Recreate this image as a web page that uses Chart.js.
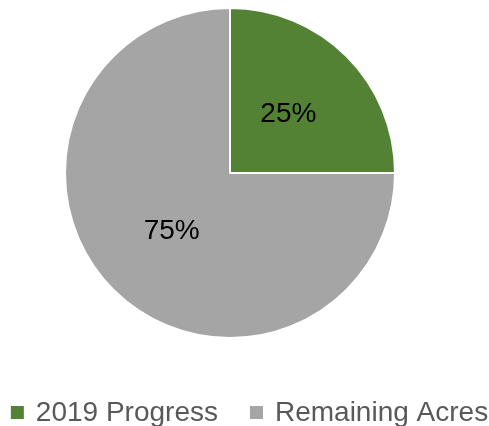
<!DOCTYPE html>
<html>
<head>
<meta charset="utf-8">
<script src="https://cdn.jsdelivr.net/npm/chart.js@4/dist/chart.umd.min.js"></script>
<style>
  html, body { margin: 0; padding: 0; background: #fff; overflow: hidden; }
</style>
</head>
<body>
<canvas id="myChart" width="489" height="426"></canvas>
<script>
const categories = ['2019 Progress', 'Remaining Acres'];
const values = [25, 75];
const pctLabels = ['25%', '75%'];
const colors = ['#548235', '#A5A5A5'];

const FONT = '"Liberation Sans"';

// percent text in the middle of each slice
const sliceLabels = {
  id: 'sliceLabels',
  afterDatasetsDraw(chart) {
    const ctx = chart.ctx;
    const meta = chart.getDatasetMeta(0);
    ctx.save();
    ctx.font = '28px ' + FONT;
    ctx.fillStyle = '#000';
    ctx.textAlign = 'center';
    ctx.textBaseline = 'middle';
    meta.data.forEach((arc, i) => {
      const p = arc.tooltipPosition();
      ctx.fillText(pctLabels[i], p.x, p.y);
    });
    ctx.restore();
  }
};

// legend on one row under the pie, centred on the whole canvas
const bottomLegend = {
  id: 'bottomLegend',
  afterDraw(chart) {
    const ctx = chart.ctx;
    const box = 13, gap = 12, itemGap = 32;
    const baseline = 421;
    ctx.save();
    ctx.font = '28px ' + FONT;
    ctx.textBaseline = 'alphabetic';
    ctx.textAlign = 'left';
    const widths = categories.map(t => ctx.measureText(t).width);
    let total = 0;
    widths.forEach((w, i) => { total += box + gap + w + (i ? itemGap : 0); });
    let x = chart.width / 2 + 5 - total / 2;
    categories.forEach((t, i) => {
      ctx.fillStyle = colors[i];
      ctx.fillRect(x, baseline - 15, box, box);
      ctx.fillStyle = '#595959';
      ctx.fillText(t, x + box + gap, baseline);
      x += box + gap + widths[i] + itemGap;
    });
    ctx.restore();
  }
};

new Chart(document.getElementById('myChart').getContext('2d'), {
  type: 'pie',
  data: {
    labels: categories,
    datasets: [{
      data: values,
      backgroundColor: colors,
      borderColor: '#fff',
      borderWidth: 2
    }]
  },
  options: {
    responsive: false,
    animation: false,
    layout: { padding: { top: 7, right: 29, bottom: 87 } },
    plugins: {
      tooltip: { enabled: false },
      legend: { display: false }
    }
  },
  plugins: [sliceLabels, bottomLegend]
});
</script>
</body>
</html>
